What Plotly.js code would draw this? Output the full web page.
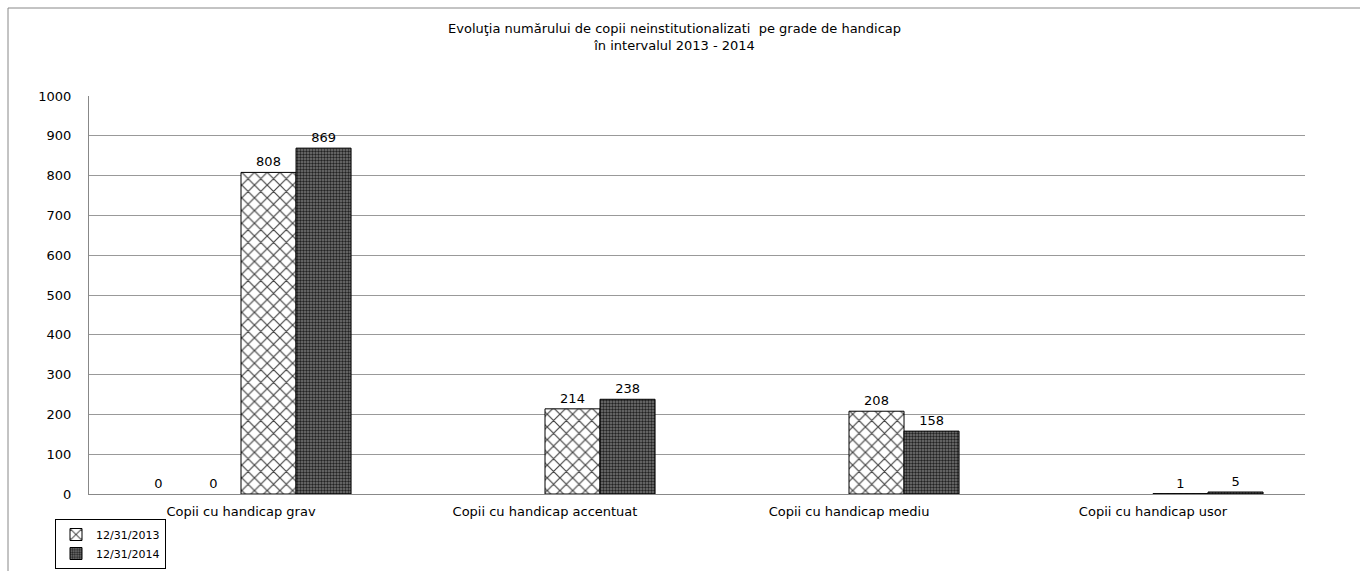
<!DOCTYPE html>
<html>
<head>
<meta charset="utf-8">
<script src="https://cdn.plot.ly/plotly-3.0.1.min.js"></script>
<style>html,body{margin:0;padding:0;background:#fff;}#chart{width:1360px;height:571px;}</style>
</head>
<body>
<div id="chart"></div>
<script>
const categories = ["Copii cu handicap grav", "Copii cu handicap accentuat", "Copii cu handicap mediu", "Copii cu handicap usor"];
const seriesHidden1 = [0, null, null, null];
const seriesHidden2 = [0, null, null, null];
const series2013 = [808, 214, 208, 1];
const series2014 = [869, 238, 158, 5];
const seriesNames = ["", "", "12/31/2013", "12/31/2014"];
const yTicks = [0, 100, 200, 300, 400, 500, 600, 700, 800, 900, 1000];

const labelFont = {family: "DejaVu Sans, Verdana, sans-serif", size: 13, color: "#000"};
const lbl = arr => arr.map(v => v === null ? "" : String(v));

const traces = [
  {type: "bar", x: categories, y: seriesHidden1, name: seriesNames[0], showlegend: false,
   text: lbl(seriesHidden1), textposition: "outside", textfont: labelFont, cliponaxis: false,
   marker: {color: "#fff", line: {width: 0}}, hoverinfo: "skip"},
  {type: "bar", x: categories, y: seriesHidden2, name: seriesNames[1], showlegend: false,
   text: lbl(seriesHidden2), textposition: "outside", textfont: labelFont, cliponaxis: false,
   marker: {color: "#fff", line: {width: 0}}, hoverinfo: "skip"},
  {type: "bar", x: categories, y: series2013, name: seriesNames[2],
   text: lbl(series2013), textposition: "outside", textfont: labelFont, cliponaxis: false,
   marker: {color: "#fff", line: {color: "#000", width: 1},
            pattern: {shape: "x", fgcolor: "#444", bgcolor: "#fff", size: 9, solidity: 0.25}}},
  {type: "bar", x: categories, y: series2014, name: seriesNames[3],
   text: lbl(series2014), textposition: "outside", textfont: labelFont, cliponaxis: false,
   marker: {color: "#555", line: {color: "#000", width: 1},
            pattern: {shape: ".", fgcolor: "#222", bgcolor: "#777", size: 3, solidity: 0.5}}}
];

const W = 1360, H = 571;
const pl = 89, pr = 1305, pt = 96, pb = 494;

const layout = {
  width: W, height: H,
  margin: {l: 0, r: 0, t: 0, b: 0},
  paper_bgcolor: "#fff", plot_bgcolor: "#fff",
  barmode: "group", bargap: 0.276, bargroupgap: 0,
  title: {text: "Evoluţia numărului de copii neinstitutionalizati  pe grade de handicap<br>în intervalul 2013 - 2014",
          font: {family: "DejaVu Sans, Liberation Sans, sans-serif", size: 13, color: "#000"},
          x: 0.496, xanchor: "center", y: 1 - 33 / H, yanchor: "middle", yref: "container"},
  xaxis: {type: "category", domain: [pl / W, pr / W], showgrid: false, showline: true,
          linecolor: "#888", linewidth: 1,
          ticks: "outside", ticklen: 5, tickcolor: "rgba(0,0,0,0)", tickfont: labelFont,
          fixedrange: true, automargin: false},
  yaxis: {range: [0, 1000], domain: [1 - pb / H, 1 - pt / H], tickvals: yTicks,
          ticktext: yTicks.map(String), showgrid: true,
          gridcolor: "#999", gridwidth: 1, showline: true, linecolor: "#888", linewidth: 1,
          ticks: "outside", ticklen: 14, tickcolor: "rgba(0,0,0,0)", tickfont: labelFont,
          zeroline: false, fixedrange: true, automargin: false},
  legend: {x: 55 / W, y: 2 / H, xanchor: "left", yanchor: "bottom",
           bordercolor: "#000", borderwidth: 1, bgcolor: "#fff",
           font: {family: "DejaVu Sans, Verdana, sans-serif", size: 11, color: "#000"},
           tracegroupgap: 0, itemwidth: 30},
  shapes: [
    {type: "line", xref: "paper", yref: "paper", x0: 8 / W, x1: 1,
     y0: 1 - 8 / H, y1: 1 - 8 / H, line: {color: "#888", width: 1}},
    {type: "line", xref: "paper", yref: "paper", x0: 8 / W, x1: 8 / W,
     y0: 1 - 8 / H, y1: 0, line: {color: "#888", width: 1}}
  ],
  showlegend: true
};

Plotly.newPlot("chart", traces, layout, {displayModeBar: false, staticPlot: true});
</script>
</body>
</html>
